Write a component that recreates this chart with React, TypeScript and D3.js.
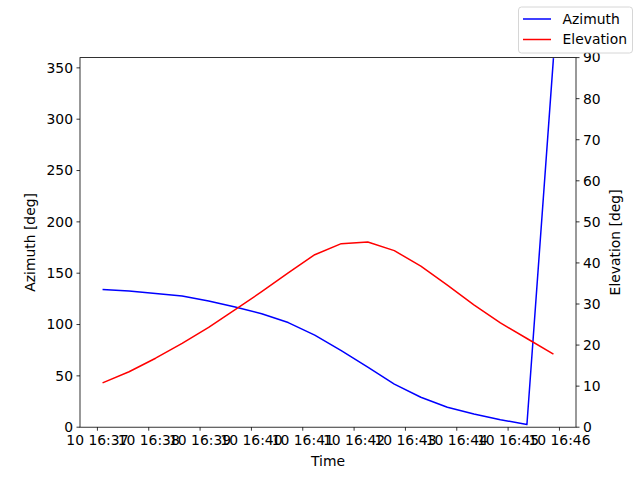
import React from 'react';
import * as d3 from 'd3';

// sample times (UTC, day 10)
const times = [
  '16:37:06', '16:37:37', '16:38:08', '16:38:39', '16:39:10', '16:39:41',
  '16:40:12', '16:40:43', '16:41:14', '16:41:45', '16:42:16', '16:42:47',
  '16:43:18', '16:43:49', '16:44:20', '16:44:51', '16:45:22', '16:45:53'
];
const azimuth = [
  134.2, 132.6, 130.3, 127.7, 123.0, 117.0, 110.5, 101.9, 89.7,
  74.6, 58.5, 41.9, 29.2, 19.5, 12.9, 7.3, 2.6, 359.5
];
const elevation = [
  10.8, 13.5, 16.8, 20.4, 24.3, 28.6, 33.0, 37.6, 42.0,
  44.7, 45.1, 43.0, 39.2, 34.6, 29.8, 25.4, 21.6, 17.8
];
const xTickTimes = ['16:37', '16:38', '16:39', '16:40', '16:41', '16:42', '16:43', '16:44', '16:45', '16:46'];
const azTicks = [0, 50, 100, 150, 200, 250, 300, 350];
const elTicks = [0, 10, 20, 30, 40, 50, 60, 70, 80, 90];

const W = 640;
const H = 480;
const margin = { top: 57.6, right: 64, bottom: 52.8, left: 80 };
const FONT = '"DejaVu Sans", sans-serif';
const FS = 13.9;

const toDate = (t: string) => new Date(`2024-01-10T${t.length === 5 ? t + ':00' : t}Z`);

export default function App() {
  const x0 = margin.left;
  const x1 = W - margin.right;
  const y0 = H - margin.bottom;
  const y1 = margin.top;

  const dates = times.map(toDate);
  const ext = d3.extent(dates) as [Date, Date];
  const pad = (ext[1].getTime() - ext[0].getTime()) * 0.05;
  const x = d3.scaleUtc()
    .domain([new Date(ext[0].getTime() - pad), new Date(ext[1].getTime() + pad)])
    .range([x0, x1]);
  const yAz = d3.scaleLinear().domain([0, 360]).range([y0, y1]);
  const yEl = d3.scaleLinear().domain([0, 90]).range([y0, y1]);

  const fmt = d3.utcFormat('%d %H:%M');

  const azLine = d3.line<number>()
    .x((_, i) => x(dates[i]))
    .y(d => yAz(d));
  const elLine = d3.line<number>()
    .x((_, i) => x(dates[i]))
    .y(d => yEl(d));

  const midY = (y0 + y1) / 2;

  return (
    <svg width={W} height={H} style={{ position: 'absolute', left: 0, top: 0, background: '#fff' }}
      fontFamily={FONT} fontSize={FS}>
      <defs>
        <clipPath id="plot">
          <rect x={x0} y={y1} width={x1 - x0} height={y0 - y1} />
        </clipPath>
      </defs>

      <g clipPath="url(#plot)">
        <path d={azLine(azimuth) || ''} fill="none" stroke="blue" strokeWidth={1.5} strokeLinejoin="round" />
        <path d={elLine(elevation) || ''} fill="none" stroke="red" strokeWidth={1.5} strokeLinejoin="round" />
      </g>

      {/* frame */}
      <rect x={x0} y={y1} width={x1 - x0} height={y0 - y1} fill="none" stroke="#000" strokeWidth={0.8} />

      {/* x axis */}
      {xTickTimes.map(t => {
        const d = toDate(t);
        const px = x(d);
        return (
          <g key={t}>
            <line x1={px} x2={px} y1={y0} y2={y0 + 3.5} stroke="#000" strokeWidth={0.8} />
            <text x={px} y={y0 + 7} dy="0.76em" textAnchor="middle">{fmt(d)}</text>
          </g>
        );
      })}
      <text x={(x0 + x1) / 2} y={466} textAnchor="middle">Time</text>

      {/* left axis */}
      {azTicks.map(v => (
        <g key={v}>
          <line x1={x0 - 3.5} x2={x0} y1={yAz(v)} y2={yAz(v)} stroke="#000" strokeWidth={0.8} />
          <text x={x0 - 7} y={yAz(v)} dy="0.35em" textAnchor="end">{v}</text>
        </g>
      ))}
      <text transform={`translate(35,${midY}) rotate(-90)`} textAnchor="middle">Azimuth [deg]</text>

      {/* right axis */}
      {elTicks.map(v => (
        <g key={v}>
          <line x1={x1} x2={x1 + 3.5} y1={yEl(v)} y2={yEl(v)} stroke="#000" strokeWidth={0.8} />
          <text x={x1 + 7} y={yEl(v)} dy="0.35em" textAnchor="start">{v}</text>
        </g>
      ))}
      <text transform={`translate(620,${midY}) rotate(-90)`} textAnchor="middle">Elevation [deg]</text>

      {/* legend */}
      <g>
        <rect x={518.5} y={7} width={114} height={46} rx={3} fill="#fff" fillOpacity={0.8}
          stroke="#cccccc" strokeWidth={0.8} />
        <line x1={523} x2={551} y1={19} y2={19} stroke="blue" strokeWidth={1.5} />
        <text x={562.5} y={19} dy="0.35em">Azimuth</text>
        <line x1={523} x2={551} y1={39.5} y2={39.5} stroke="red" strokeWidth={1.5} />
        <text x={562.5} y={39.5} dy="0.35em">Elevation</text>
      </g>
    </svg>
  );
}
